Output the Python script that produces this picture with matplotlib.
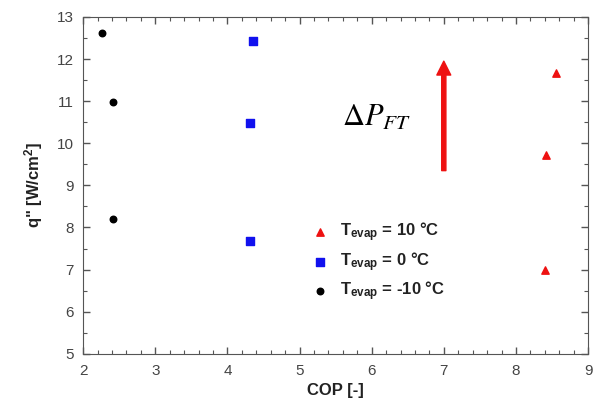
import matplotlib.pyplot as plt
from matplotlib.ticker import MultipleLocator

plt.rcParams['font.family'] = ['Liberation Sans', 'DejaVu Sans']
plt.rcParams['mathtext.fontset'] = 'custom'
plt.rcParams['mathtext.rm'] = 'Liberation Sans:bold'
plt.rcParams['mathtext.bf'] = 'Liberation Sans:bold'
plt.rcParams['mathtext.it'] = 'Liberation Sans:bold'

# COP vs heat flux for three evaporator temperatures
cop_10 = [8.55, 8.42, 8.40]
q_10 = [11.68, 9.72, 7.00]
cop_0 = [4.35, 4.31, 4.31]
q_0 = [12.43, 10.49, 7.67]
cop_m10 = [2.26, 2.41, 2.41]
q_m10 = [12.63, 10.99, 8.20]

labels = ['T$_{evap}$ = 10 °C', 'T$_{evap}$ = 0 °C', 'T$_{evap}$ = -10 °C']

fig = plt.figure(figsize=(5.94, 4.03), dpi=100)
ax = fig.add_axes([0.140, 0.122, 0.850, 0.836])

ax.scatter(cop_10, q_10, marker='^', s=28, color='#ee1111', label=labels[0], zorder=3)
ax.scatter(cop_0, q_0, marker='s', s=26, color='#1111ee', label=labels[1], zorder=3)
ax.scatter(cop_m10, q_m10, marker='o', s=22, color='black', label=labels[2], zorder=3)

# pressure-drop arrow
ax.annotate('', xy=(7, 11.95), xytext=(7, 9.35),
            arrowprops=dict(width=3, headwidth=10, headlength=10, color='#ee1111',
                            shrink=0))
ax.text(6.07, 10.6, r'$\Delta P_{FT}$', fontsize=22, ha='center', va='center',
        math_fontfamily='stix')

ax.set_xlim(2, 9)
ax.set_ylim(5, 13)
ax.xaxis.set_major_locator(MultipleLocator(1))
ax.xaxis.set_minor_locator(MultipleLocator(0.2))
ax.yaxis.set_major_locator(MultipleLocator(1))
ax.yaxis.set_minor_locator(MultipleLocator(0.5))
ax.tick_params(which='both', direction='in', top=True, right=True, color='#555555',
               labelcolor='#444444', labelsize=11, pad=7)
ax.tick_params(which='major', length=5, width=1)
ax.tick_params(which='minor', length=3, width=0.8)
for sp in ax.spines.values():
    sp.set_color('#555555')

ax.set_xlabel('COP [-]', fontsize=12, fontweight='bold', color='#222222')
ax.set_ylabel('q" [W/cm$^2$]', fontsize=12, fontweight='bold', color='#222222', labelpad=8)

leg = ax.legend(loc='upper left', bbox_to_anchor=(0.42, 0.44), frameon=False,
                handletextpad=0.6, labelspacing=0.35, prop={'weight': 'bold', 'size': 12},
                handlelength=1.2)
for t in leg.get_texts():
    t.set_color('#222222')

fig.savefig('out.png', dpi=100)
